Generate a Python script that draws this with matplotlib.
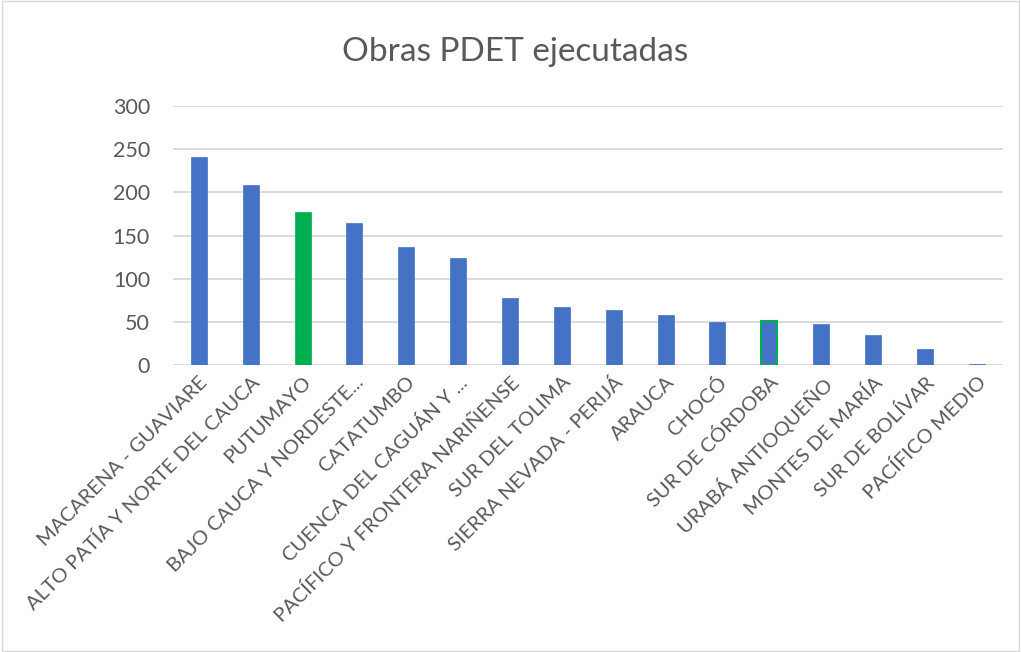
import matplotlib.pyplot as plt
from matplotlib.patches import Rectangle

# Data
regions = ['MACARENA - GUAVIARE', 'ALTO PATÍA Y NORTE DEL CAUCA', 'PUTUMAYO',
           'BAJO CAUCA Y NORDESTE...', 'CATATUMBO', 'CUENCA DEL CAGUÁN Y ...',
           'PACÍFICO Y FRONTERA NARIÑENSE', 'SUR DEL TOLIMA', 'SIERRA NEVADA - PERIJÁ',
           'ARAUCA', 'CHOCÓ', 'SUR DE CÓRDOBA', 'URABÁ ANTIOQUEÑO',
           'MONTES DE MARÍA', 'SUR DE BOLÍVAR', 'PACÍFICO MEDIO']
obras = [241, 209, 177, 164, 137, 124, 78, 67, 64, 58, 50, 51, 48, 35, 18, 1]
highlight = ['PUTUMAYO']
outlined = ['SUR DE CÓRDOBA']
yticks = [0, 50, 100, 150, 200, 250, 300]

plt.rcParams['font.family'] = ['Lato', 'DejaVu Sans']
blue = '#4472c4'
green = '#00b050'
gray = '#595959'

fig = plt.figure(figsize=(10.21, 6.52), dpi=100)
ax = fig.add_axes([0.1694, 0.4402, 0.8126, 0.3972])

colors = [green if r in highlight else blue for r in regions]
edges = [green if r in outlined else c for r, c in zip(regions, colors)]
bars = ax.bar(range(len(regions)), obras, width=0.31, color=colors,
              edgecolor=edges, linewidth=[1.5 if r in outlined else 0.5 for r in regions],
              zorder=3)

ax.set_xlim(-0.5, len(regions) - 0.5)
ax.set_ylim(0, 300)
ax.set_yticks(yticks)
ax.set_yticklabels([str(t) for t in yticks], fontsize=15.5, color=gray)
ax.set_xticks(range(len(regions)))
ax.set_xticklabels(regions, rotation=45, ha='right', rotation_mode='anchor',
                   fontsize=14.5, color=gray)
ax.tick_params(axis='both', length=0)
ax.tick_params(axis='y', pad=16.5)
ax.tick_params(axis='x', pad=6)
ax.grid(axis='y', color='#d9d9d9', linewidth=1.3, zorder=0)
for s in ax.spines.values():
    s.set_visible(False)

fig.text(0.505, 0.92, 'Obras PDET ejecutadas', ha='center', va='center',
         fontsize=24, color=gray)

# light border around the chart
fig.patches.append(Rectangle((0.002, 0.002), 0.996, 0.996, transform=fig.transFigure,
                             fill=False, edgecolor='#d9d9d9', linewidth=1))

fig.savefig('out.png', dpi=100)
